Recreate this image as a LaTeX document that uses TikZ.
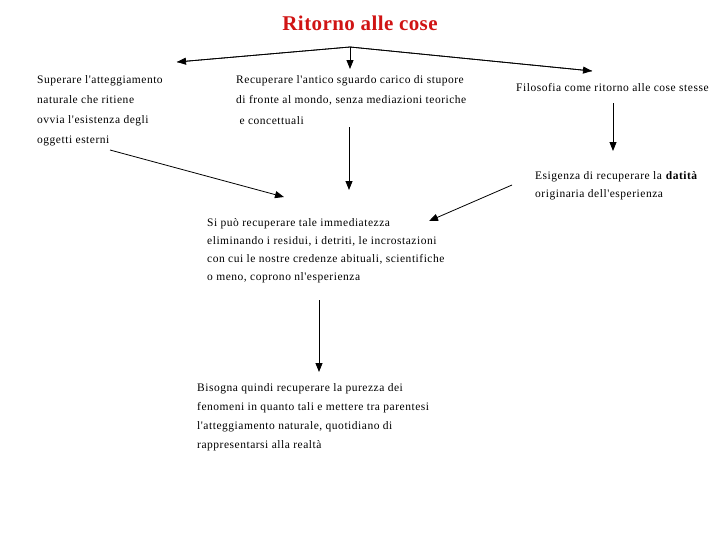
\documentclass[tikz,border=0pt]{standalone}
\usepackage{fontspec}
\setmainfont{Liberation Serif}[Ligatures=TeXOff,LetterSpace=4.5]
\newfontfamily\titlefont{Liberation Serif}[LetterSpace=2]
\usetikzlibrary{arrows.meta}
\definecolor{titlered}{RGB}{208,20,20}
\begin{document}
\begin{tikzpicture}[x=1pt,y=-1pt,
  txt/.style={anchor=north west,inner sep=0pt,align=left,font=\fontsize{11.5}{#1}\selectfont},
  txt/.default=20,
  arr/.style={draw,line width=0.8pt,-{Triangle[length=9pt,width=7pt]}}]
\useasboundingbox (0,0) rectangle (728,546);
\node[anchor=center,inner sep=0pt,font=\fontsize{21}{24}\selectfont\titlefont\bfseries,text=titlered] (title) at (360,23) {Ritorno alle cose};
\coordinate (j) at (350,47);
\coordinate (tl) at (177,62);
\coordinate (tm) at (350,69);
\coordinate (tr) at (592,71);
\draw[line width=0.8pt] (tl) -- (j) -- (tr);
\draw[arr] (j) -- (tl);
\draw[arr] (j) -- (tm);
\draw[arr] (j) -- (tr);
\node[txt=20.2] (left) at (37,75) {Superare l'atteggiamento\\naturale che ritiene\\ovvia l'esistenza degli\\oggetti esterni};
\node[txt=20.5] (mid) at (236,75) {Recuperare l'antico sguardo carico di stupore\\di fronte al mondo, senza mediazioni teoriche\\\ e concettuali};
\node[txt] (right) at (516,83) {Filosofia come ritorno alle cose stesse};
\node[txt=18.5] (es) at (535,171) {Esigenza di recuperare la \textbf{datità}\\originaria dell'esperienza};
\node[txt=18.2] (si) at (207,218) {Si può recuperare tale immediatezza\\eliminando i residui, i detriti, le incrostazioni\\con cui le nostre credenze abituali, scientifiche\\o meno, coprono nl'esperienza};
\node[txt=19] (bi) at (197,383) {Bisogna quindi recuperare la purezza dei\\fenomeni in quanto tali e mettere tra parentesi\\l'atteggiamento naturale, quotidiano di\\rappresentarsi alla realtà};
\coordinate (a1s) at (110,150);
\coordinate (a1e) at (284,197);
\coordinate (a2s) at (349,127);
\coordinate (a2e) at (349,190);
\coordinate (a3s) at (613,103);
\coordinate (a3e) at (613,151);
\coordinate (a4s) at (512,185);
\coordinate (a4e) at (429,221);
\coordinate (a5s) at (319,300);
\coordinate (a5e) at (319,372);
\draw[arr] (a1s) -- (a1e);
\draw[arr] (a2s) -- (a2e);
\draw[arr] (a3s) -- (a3e);
\draw[arr] (a4s) -- (a4e);
\draw[arr] (a5s) -- (a5e);
\end{tikzpicture}
\end{document}
